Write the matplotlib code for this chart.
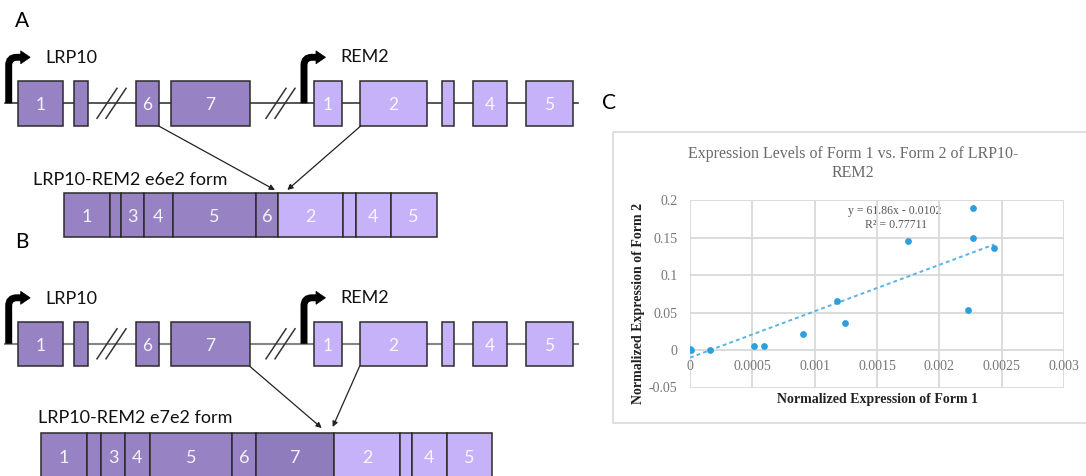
import matplotlib
matplotlib.use("Agg")
import matplotlib.pyplot as plt
import numpy as np
from matplotlib.patches import Rectangle, Polygon, PathPatch
from matplotlib.path import Path

W, H = 1086, 476

# ---------------- Data ----------------
# Gene models (diagram coordinates)
lrp10_labels = ["1", "", "6", "7"]
lrp10_start = [17.7, 74.0, 135.7, 170.7]
lrp10_end = [63.3, 88.3, 158.7, 250.0]

rem2_labels = ["1", "2", "", "4", "5"]
rem2_start = [314.3, 360.0, 441.7, 472.7, 526.0]
rem2_end = [341.7, 426.7, 454.0, 507.3, 572.7]

e6e2_labels = ["1", "", "3", "4", "5", "6", "2", "", "4", "5"]
e6e2_edges = [64.0, 110.0, 120.7, 144.0, 172.7, 256.0, 277.7, 342.7, 356.0, 390.7, 436.7]
e6e2_n_lrp10 = 6

e7e2_labels = ["1", "", "3", "4", "5", "6", "7", "2", "", "4", "5"]
e7e2_edges = [40.7, 86.7, 101.0, 125.0, 150.0, 232.3, 255.7, 334.3, 400.0, 412.3, 446.7, 491.7]
e7e2_n_lrp10 = 7

# Scatter data (panel C)
form1 = [0.0, 0.00001, 0.00016, 0.00051, 0.00059, 0.00091, 0.00118, 0.00124,
         0.00175, 0.00223, 0.00227, 0.00227, 0.00244]
form2 = [0.002, 0.0, 0.0, 0.006, 0.006, 0.022, 0.066, 0.036,
         0.145, 0.053, 0.190, 0.149, 0.136]
trend_slope = 61.86
trend_intercept = -0.0102
x_ticks = [0, 0.0005, 0.001, 0.0015, 0.002, 0.0025, 0.003]
x_ticklabels = ["0", "0.0005", "0.001", "0.0015", "0.002", "0.0025", "0.003"]
y_ticks = [-0.05, 0, 0.05, 0.1, 0.15, 0.2]
y_ticklabels = ["-0.05", "0", "0.05", "0.1", "0.15", "0.2"]

# ---------------- Styles ----------------
DARK = "#9783c4"
DARK7 = "#8f7cbc"
LIGHT = "#c5b2f8"
EDGE = "#2b2b2b"
SANS = ["Lato", "DejaVu Sans"]
SERIF = ["Liberation Serif", "DejaVu Serif"]

fig = plt.figure(figsize=(W / 100, H / 100), dpi=100)
fig.patch.set_facecolor("white")
ax0 = fig.add_axes([0, 0, 1, 1])
ax0.set_xlim(0, W)
ax0.set_ylim(H, 0)
ax0.axis("off")


def exon(x0, x1, ytop, ybot, color, label, fs=12.5, ec=EDGE):
    ax0.add_patch(Rectangle((x0, ytop), x1 - x0, ybot - ytop, facecolor=color,
                            edgecolor=ec, lw=1.1, zorder=3))
    if label:
        ax0.text((x0 + x1) / 2, (ytop + ybot) / 2 + 2, label, ha="center", va="center",
                 color="white", alpha=0.9, fontsize=fs, family=SANS, zorder=4)


def promoter(xb, ybase):
    verts = [(xb, ybase), (xb, ybase - 38), (xb, ybase - 46), (xb + 8, ybase - 46),
             (xb + 13, ybase - 46)]
    codes = [Path.MOVETO, Path.LINETO, Path.CURVE3, Path.CURVE3, Path.LINETO]
    ax0.add_patch(PathPatch(Path(verts, codes), facecolor="none", edgecolor="black",
                            lw=5, capstyle="butt", joinstyle="miter", zorder=5))
    ax0.add_patch(Polygon([(xb + 12, ybase - 52.5), (xb + 21.5, ybase - 46),
                           (xb + 12, ybase - 39.5)], closed=True, facecolor="black",
                          edgecolor="black", lw=0.5, zorder=5))


def slashes(xc, yc):
    for dx in (-5, 4):
        ax0.plot([xc + dx - 10, xc + dx + 10], [yc + 15, yc - 15], color="#333333",
                 lw=1.1, zorder=2)


def gene_row(yc, line_color, line_lw):
    ax0.plot([5, 578], [yc, yc], color=line_color, lw=line_lw, zorder=1)
    for s, e, lab in zip(lrp10_start, lrp10_end, lrp10_labels):
        exon(s, e, yc - 22.3, yc + 22.5, DARK, lab)
    for s, e, lab in zip(rem2_start, rem2_end, rem2_labels):
        exon(s, e, yc - 22.3, yc + 22.5, LIGHT, lab)
    slashes(112, yc)
    slashes(281, yc)
    promoter(8.7, yc)
    promoter(304.0, yc)
    ax0.text(45, yc - 45, "LRP10", fontsize=13, family=SANS, ha="left", va="center",
             color="#111111")
    ax0.text(340, yc - 46, "REM2", fontsize=13, family=SANS, ha="left", va="center",
             color="#111111")


def transcript(edges, labels, n_lrp, ytop, ybot, special=None):
    for i, lab in enumerate(labels):
        col = DARK if i < n_lrp else LIGHT
        if special is not None and i == special:
            col = DARK7
        exon(edges[i], edges[i + 1], ytop, ybot, col, lab, fs=13)


def arrow(p0, p1):
    ax0.annotate("", xy=p1, xytext=p0,
                 arrowprops=dict(arrowstyle="-|>", color="#222222", lw=0.9,
                                 mutation_scale=8, shrinkA=0, shrinkB=0), zorder=6)


# ---- Panel A ----
ax0.text(22, 21, "A", fontsize=15, family=SANS, ha="center", va="center")
gene_row(103.3, "#3a3a3a", 1.2)
ax0.text(33, 180, "LRP10-REM2 e6e2 form", fontsize=13, family=SANS, ha="left",
         va="center", color="#111111")
transcript(e6e2_edges, e6e2_labels, e6e2_n_lrp10, 192.7, 237.0)
arrow((158.7, 126), (275.0, 190.0))
arrow((360.7, 126), (287.3, 190.0))

# ---- Panel B ----
ax0.text(22, 242, "B", fontsize=15, family=SANS, ha="center", va="center")
gene_row(343.8, "#858585", 1.5)
ax0.text(38, 417.7, "LRP10-REM2 e7e2 form", fontsize=13, family=SANS, ha="left",
         va="center", color="#111111")
transcript(e7e2_edges, e7e2_labels, e7e2_n_lrp10, 433.3, 478.0, special=6)
arrow((250.0, 366.5), (321.7, 428.0))
arrow((359.5, 366.5), (332.7, 427.0))

# ---- Panel C ----
ax0.text(609, 103, "C", fontsize=15, family=SANS, ha="center", va="center")
ax0.add_patch(Rectangle((612.7, 131.7), 480, 291.6, facecolor="white",
                        edgecolor="#d9d9d9", lw=1.2, zorder=0))
ax0.text(853, 163.5, "Expression Levels of Form 1 vs. Form 2 of LRP10-\nREM2",
         fontsize=11.5, family=SERIF, ha="center", va="center", color="#6a6a6a",
         linespacing=1.2)
ax0.text(877.5, 400, "Normalized Expression of Form 1", fontsize=10, family=SERIF,
         weight="bold", ha="center", va="center", color="#222222")
ax0.text(638.3, 303, "Normalized Expression of Form 2", fontsize=10, family=SERIF,
         weight="bold", ha="center", va="center", rotation=90, color="#222222")
ax0.text(895, 210.7, "y = 61.86x - 0.0102", fontsize=8.5, family=SERIF,
         ha="center", va="center", color="#555555")
ax0.text(896, 225.5, "R² = 0.77711", fontsize=8.5, family=SERIF,
         ha="center", va="center", color="#555555")

ax = fig.add_axes([690 / W, 1 - 387.5 / H, 374 / W, 187.5 / H])
ax.patch.set_alpha(0)
ax.set_xlim(0, 0.003)
ax.set_ylim(-0.05, 0.2)
ax.set_xticks(x_ticks)
ax.set_xticklabels(x_ticklabels)
ax.set_yticks(y_ticks)
ax.set_yticklabels(y_ticklabels)
for sp in ax.spines.values():
    sp.set_visible(False)
ax.spines["bottom"].set_position(("data", 0))
ax.grid(True, color="#d9d9d9", lw=1.3)
ax.set_axisbelow(True)
ax.tick_params(axis="both", length=0, labelsize=10, labelcolor="#777777")
ax.tick_params(axis="x", pad=7)
ax.tick_params(axis="y", pad=9)
for lab in ax.get_xticklabels() + ax.get_yticklabels():
    lab.set_family(SERIF)

xt = np.array([min(form1), max(form1)])
ax.plot(xt, trend_slope * xt + trend_intercept, color="#5ab4e5", lw=1.4,
        linestyle=(0, (2, 1.6)), zorder=2)
ax.scatter(form1, form2, s=24, color="#2f9fdc", zorder=3, linewidths=0)

fig.savefig("out.png", dpi=100)
